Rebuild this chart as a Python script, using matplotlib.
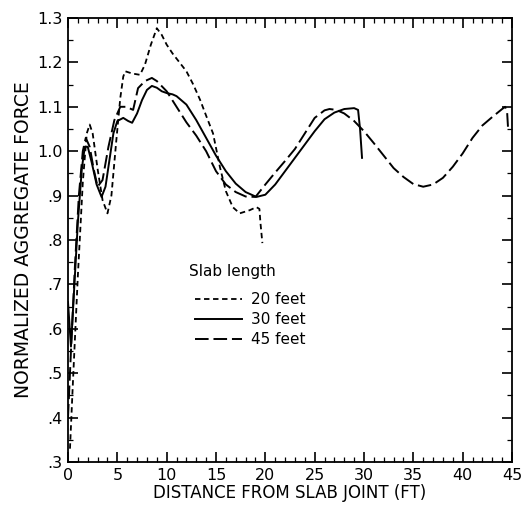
import matplotlib
matplotlib.use("Agg")
import matplotlib.pyplot as plt
from matplotlib.lines import Line2D
from matplotlib.ticker import MultipleLocator, FixedLocator

plt.rcParams['font.family'] = ['DejaVu Sans']

# 20-foot slab (short dashes)
x20 = [0.2, 0.5, 1.0, 1.5, 1.9, 2.2, 2.5, 3.0, 3.5, 4.0, 4.4, 4.9, 5.3, 5.6, 5.8, 6.5, 7.3, 7.8, 8.4, 9.0,
       9.5, 10.0, 10.6, 11.3, 12.0, 12.7, 13.4, 14.0, 14.7, 15.4, 16.0, 16.7, 17.4, 18.4, 19.1, 19.4, 19.5, 19.7]
y20 = [0.33, 0.48, 0.72, 0.93, 1.04, 1.06, 1.04, 0.96, 0.89, 0.86, 0.90, 1.025, 1.12, 1.168, 1.18, 1.175, 1.172, 1.195, 1.24, 1.277,
       1.262, 1.24, 1.22, 1.20, 1.18, 1.15, 1.115, 1.08, 1.04, 0.964, 0.91, 0.874, 0.86, 0.867, 0.874, 0.87, 0.84, 0.793]

# 30-foot slab (solid)
x30 = [0.0, 0.3, 0.6, 1.0, 1.4, 1.7, 2.0, 2.4, 2.9, 3.4, 3.8, 4.2, 4.6, 5.0, 5.6, 6.1, 6.5, 7.0, 7.5, 8.0,
       8.5, 9.0, 9.5, 10.0, 10.6, 11.0, 12.0, 13.0, 14.0, 15.0, 16.0, 17.0, 18.0, 19.1, 20.0, 21.0, 22.0, 23.0,
       24.0, 25.0, 26.0, 27.0, 28.0, 29.0, 29.4, 29.6, 29.8]
y30 = [0.66, 0.56, 0.68, 0.84, 0.96, 1.01, 1.01, 0.975, 0.925, 0.897, 0.92, 0.98, 1.04, 1.068, 1.075, 1.068, 1.064, 1.085, 1.115, 1.138,
       1.147, 1.143, 1.135, 1.131, 1.128, 1.124, 1.105, 1.07, 1.03, 0.99, 0.955, 0.927, 0.908, 0.897, 0.902, 0.925, 0.955, 0.985,
       1.015, 1.045, 1.072, 1.087, 1.095, 1.097, 1.093, 1.05, 0.985]

# 45-foot slab (long dashes)
x45 = [0.0, 0.3, 0.7, 1.1, 1.5, 1.8, 2.2, 2.6, 3.0, 3.5, 4.1, 4.7, 5.3, 5.9, 6.6, 7.1, 7.8, 8.5, 9.0, 10.0,
       11.0, 12.0, 13.0, 14.0, 15.0, 16.0, 17.0, 18.0, 19.0, 20.0, 21.0, 22.0, 23.0, 24.0, 25.0, 26.0, 26.5,
       27.2, 28.0, 29.0, 30.0, 31.0, 32.0, 33.0, 34.0, 35.0, 36.0, 37.0, 38.0, 39.0, 40.0, 41.0, 42.0, 43.0,
       44.0, 44.3, 44.5, 44.6]
y45 = [0.40, 0.55, 0.74, 0.90, 1.00, 1.03, 1.01, 0.96, 0.92, 0.935, 1.01, 1.07, 1.10, 1.10, 1.093, 1.142, 1.158, 1.165, 1.158, 1.135,
       1.10, 1.065, 1.035, 1.00, 0.955, 0.925, 0.908, 0.898, 0.897, 0.925, 0.952, 0.978, 1.005, 1.04, 1.075, 1.092, 1.095,
       1.093, 1.085, 1.068, 1.045, 1.018, 0.99, 0.962, 0.942, 0.926, 0.92, 0.925, 0.94, 0.965, 0.995, 1.03, 1.058, 1.077,
       1.095, 1.10, 1.09, 1.052]

series_labels = ["20 feet", "30 feet", "45 feet"]
x_ticks = [0, 5, 10, 15, 20, 25, 30, 35, 40, 45]
x_tick_labels = ["0", "5", "10", "15", "20", "25", "30", "35", "40", "45"]
y_ticks = [0.3, 0.4, 0.5, 0.6, 0.7, 0.8, 0.9, 1.0, 1.1, 1.2, 1.3]
y_tick_labels = [".3", ".4", ".5", ".6", ".7", ".8", ".9", "1.0", "1.1", "1.2", "1.3"]

fig = plt.figure(figsize=(5.25, 5.07), dpi=100)
ax = fig.add_axes([68/525, 1-462/507, 444/525, 444/507])

styles = [dict(ls=(0, (3.0, 2.0)), lw=1.3),
          dict(ls='-', lw=1.4),
          dict(ls=(0, (7.0, 2.5)), lw=1.4)]

for xs, ys, st in zip([x20, x30, x45], [y20, y30, y45], styles):
    ax.plot(xs, ys, color='black', solid_joinstyle='round', dash_joinstyle='round', **st)

ax.set_xlim(0, 45)
ax.set_ylim(0.3, 1.3)
ax.xaxis.set_major_locator(FixedLocator(x_ticks))
ax.set_xticklabels(x_tick_labels)
ax.xaxis.set_minor_locator(MultipleLocator(1))
ax.yaxis.set_major_locator(FixedLocator(y_ticks))
ax.set_yticklabels(y_tick_labels)
ax.yaxis.set_minor_locator(MultipleLocator(0.05))
ax.tick_params(which='both', direction='in', top=True, right=True, labelsize=11.5, pad=4)
ax.tick_params(which='major', length=7, width=1.2)
ax.tick_params(which='minor', length=3.5, width=0.9)
for s in ax.spines.values():
    s.set_linewidth(1.3)

ax.set_xlabel("DISTANCE FROM SLAB JOINT (FT)", fontsize=12, labelpad=1)
ax.set_ylabel("NORMALIZED AGGREGATE FORCE", fontsize=13.5, labelpad=3)

# hand-drawn style legend
ax.text(0.272, 0.43, "Slab length", transform=ax.transAxes, fontsize=11, va='center', ha='left')
rows = [0.367, 0.322, 0.277]
for lab, st, ry in zip(series_labels, styles, rows):
    ax.add_line(Line2D([0.287, 0.392], [ry, ry], transform=ax.transAxes, color='black', **st))
    ax.text(0.412, ry, lab, transform=ax.transAxes, fontsize=11, va='center', ha='left')

fig.savefig("out.png", dpi=100)
